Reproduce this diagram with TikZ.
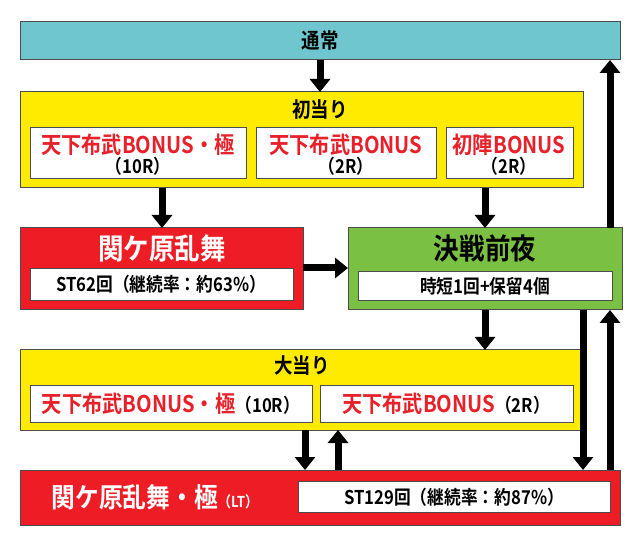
\documentclass[tikz,border=0pt]{standalone}
\usepackage{fontspec}
\setmainfont{Noto Sans CJK JP}[BoldFont={* Bold},BoldFeatures={FakeStretch=0.88}]
\usetikzlibrary{arrows.meta}
\definecolor{cblue}{HTML}{6FC6CF}
\definecolor{cyel}{HTML}{FFEB00}
\definecolor{cred}{HTML}{EE1C25}
\definecolor{cgreen}{HTML}{7AC143}
\definecolor{ctxt}{HTML}{E8202A}
\newcommand{\fsz}[1]{\fontsize{#1}{#1}\selectfont}
\tikzset{
 box/.style={draw=black!70,line width=1pt},
 inbox/.style={draw=black!70,line width=0.8pt,fill=white},
 big/.style={line width=7pt,-{Triangle[width=20pt,length=13pt]}},
 t/.style={font=\bfseries\fsz{19},inner sep=0},
 ttl/.style={font=\bfseries\fsz{21},inner sep=0},
 red/.style={font=\bfseries\fsz{23},inner sep=0,text=ctxt},
}
\begin{document}
\begin{tikzpicture}[x=1pt,y=-1pt]
\useasboundingbox (0,0) rectangle (640,545);
\fill[white] (0,0) rectangle (640,545);
% boxes
\draw[box,fill=cblue] (20,22) rectangle (620,60);
\node[ttl] (tsujo) at (320,41) {通常};
\draw[box,fill=cyel] (20,92) rectangle (583,188);
\node[ttl] (hatsu) at (320,110) {初当り};
\draw[inbox] (30,127) rectangle (246,178);
\draw[inbox] (256,127) rectangle (436,178);
\draw[inbox] (446,127) rectangle (573,178);
\node[red] at (138,145) {天下布武BONUS・極};
\node[t] at (138,166) {（10R）};
\node[red] at (346,145) {天下布武BONUS};
\node[t] at (346,166) {（2R）};
\node[red] at (509,145) {初陣BONUS};
\node[t] at (509,166) {（2R）};
% sekigahara
\draw[box,fill=cred] (20,228) rectangle (303,310);
\node[t,text=white,font=\bfseries\fsz{29}] at (162,248) {関ケ原乱舞};
\draw[inbox] (30,268) rectangle (293,300);
\node[t] at (161,284) {ST62回（継続率：約63\%）};
% kessen
\draw[box,fill=cgreen] (348,228) rectangle (622,310);
\node[t,font=\bfseries\fsz{29}] at (485,248) {決戦前夜};
\draw[inbox] (358,271) rectangle (612,300);
\node[t] at (485,286) {時短1回+保留4個};
% oatari
\draw[box,fill=cyel] (20,350) rectangle (583,430);
\node[ttl] at (302,366) {大当り};
\draw[inbox] (30,385) rectangle (312,422);
\draw[inbox] (320,385) rectangle (573,422);
\node[t] at (171,404) {\textcolor{ctxt}{\fsz{23}天下布武BONUS・極}（10R）};
\node[t] at (446,404) {\textcolor{ctxt}{\fsz{23}天下布武BONUS}（2R）};
% kiwami
\draw[box,fill=cred] (20,470) rectangle (620,525);
\node[t,text=white,font=\bfseries\fsz{27}] at (155,497) {関ケ原乱舞・極\fsz{15}（LT）};
\draw[inbox] (298,481) rectangle (610,512);
\node[t] at (454,497) {ST129回（継続率：約87\%）};
% arrows
\draw[big] (320,60) -- (320,92);
\draw[big] (162,188) -- (162,228);
\draw[big] (485,188) -- (485,228);
\draw[big] (303,268) -- (348,268);
\draw[big] (485,310) -- (485,350);
\draw[big] (305,430) -- (305,470);
\draw[big] (338,470) -- (338,430);
\draw[big] (583,310) -- (583,470);
\draw[big] (610,470) -- (610,310);
\draw[big] (610,228) -- (610,60);
\end{tikzpicture}
\end{document}
